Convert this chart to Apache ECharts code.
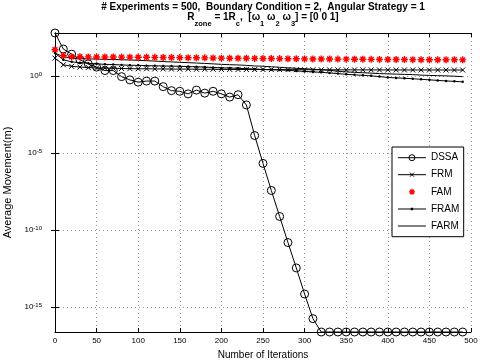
<!DOCTYPE html>
<html><head><meta charset="utf-8">
<script src="https://cdn.jsdelivr.net/npm/echarts@6/dist/echarts.min.js"></script>
<style>html,body{margin:0;padding:0;background:#fff}#c{width:489px;height:363px}</style>
</head><body><div id="c"></div>
<script>
const iterations = [0,10,20,30,40,50,60,70,80,90,100,110,120,130,140,150,160,170,180,190,200,210,220,230,240,250,260,270,280,290,300,310,320,330,340,350,360,370,380,390,400,410,420,430,440,450,460,470,480,490];
const dssa = [603,55,25.7,11,6.0,3.7,2.2,2.2,0.89,0.55,0.39,0.46,0.46,0.20,0.11,0.10,0.068,0.12,0.076,0.10,0.068,0.042,0.060,0.013,1.35e-4,2.1e-6,3.7e-8,7.6e-10,1.55e-11,3.5e-13,7.1e-15,1.8e-16,2.45e-17,2.45e-17,2.45e-17,2.45e-17,2.45e-17,2.45e-17,2.45e-17,2.45e-17,2.45e-17,2.45e-17,2.45e-17,2.45e-17,2.45e-17,2.45e-17,2.45e-17,2.45e-17,2.45e-17,2.45e-17];
const frm = [14.1,5.25,4.17,3.72,3.47,3.24,3.16,3.09,3.02,2.95,2.88,2.88,2.82,2.82,2.75,2.75,2.75,2.69,2.69,2.69,2.63,2.63,2.6,2.6,2.57,2.57,2.55,2.55,2.52,2.52,2.5,2.5,2.48,2.48,2.46,2.46,2.45,2.45,2.44,2.44,2.43,2.43,2.42,2.42,2.41,2.41,2.4,2.4,2.4,2.4];
const fam = [49,20,17.4,17.2,17.0,16.8,16.7,16.6,16.5,16.4,16.2,16.0,15.9,15.7,15.5,15.3,15.1,14.9,14.7,14.5,14.1,14.0,13.9,13.8,13.6,13.5,13.3,13.2,13.0,12.9,12.6,12.5,12.4,12.3,12.2,12.1,12.0,11.9,11.8,11.7,11.6,11.5,11.4,11.3,11.2,11.1,11.1,11.0,11.0,10.9];
const fram = [30.2,11,8.1,7.2,6.5,6.0,5.6,5.4,5.1,4.9,4.8,4.6,4.5,4.4,4.3,4.2,4.0,3.9,3.7,3.5,3.3,3.2,3.1,2.9,2.8,2.6,2.5,2.4,2.3,2.1,1.95,1.8,1.7,1.55,1.4,1.26,1.17,1.08,1.0,0.9,0.79,0.74,0.7,0.65,0.6,0.55,0.51,0.47,0.44,0.41];
const farm = [30.2,17.4,13.8,13.2,12.6,12.3,11.9,11.5,11.1,10.7,10.2,9.6,9.1,8.5,8.0,7.6,7.2,6.8,6.4,6.0,5.6,5.3,5.1,4.8,4.4,4.2,3.9,3.6,3.3,3.1,2.9,2.7,2.5,2.3,2.0,1.8,1.7,1.6,1.5,1.4,1.35,1.3,1.25,1.2,1.12,1.07,1.03,1.0,0.95,0.89];
const seriesNames = ['DSSA','FRM','FAM','FRAM','FARM'];
const yTicks = [1e-15,1e-10,1e-5,1];
const xMin = 0, xMax = 500, xStep = 50;
const yMin = 2.45e-17, yMax = 603;

const FONT = 'Liberation Sans';
const pts = arr => iterations.map((x, i) => [x, arr[i]]);

const chart = echarts.init(document.getElementById('c'), null, {renderer: 'canvas'});
const yLabelFmt = v => '{b|10}{s|' + Math.round(Math.log10(v)) + '}';

const xBase = {
  type: 'value', min: xMin, max: xMax, interval: xStep,
  axisLine: {show: true, onZero: false, lineStyle: {color: '#000', width: 1}},
  axisTick: {show: true, inside: true, length: 4, lineStyle: {color: '#000'}},
};
const yBase = {
  type: 'log', logBase: 10, min: yMin, max: yMax,
  axisLine: {show: true, lineStyle: {color: '#000', width: 1}},
  axisTick: {show: true, inside: true, length: 4, customValues: yTicks, lineStyle: {color: '#000'}},
};

chart.setOption({
  animation: false,
  backgroundColor: '#fff',
  title: [
    {text: '# Experiments = 500,  Boundary Condition = 2,  Angular Strategy = 1', left: 263, top: 1, textAlign: 'center', padding: 0,
     textStyle: {fontFamily: FONT, fontSize: 10, fontWeight: 'bold', color: '#000', lineHeight: 12}},
    {text: 'R{s|zone} = 1R{s|c},  [\u03c9{s|1} \u03c9{s|2} \u03c9{s|3}] = [0 0 1]', left: 263, top: 6.5, textAlign: 'center', padding: 0,
     textStyle: {fontFamily: FONT, fontSize: 10, fontWeight: 'bold', color: '#000', lineHeight: 21,
       rich: {s: {fontFamily: FONT, fontSize: 7.5, fontWeight: 'bold', color: '#000', lineHeight: 6, verticalAlign: 'bottom'}}}}
  ],
  grid: {left: 55, right: 18, top: 33, bottom: 31, containLabel: false, outerBoundsMode: 'none'},
  xAxis: [
    Object.assign({}, xBase, {position: 'bottom',
      name: 'Number of Iterations', nameLocation: 'middle', nameGap: 15,
      nameTextStyle: {fontFamily: FONT, fontSize: 10, color: '#000'},
      axisLabel: {show: true, margin: 5, fontFamily: FONT, fontSize: 8, color: '#000'},
      splitLine: {show: true, lineStyle: {color: '#999', width: 1, type: [1, 3]}}}),
    Object.assign({}, xBase, {position: 'top', axisLabel: {show: false}, splitLine: {show: false}})
  ],
  yAxis: [
    Object.assign({}, yBase, {position: 'left',
      name: 'Average Movement(m)', nameLocation: 'middle', nameGap: 27,
      nameTextStyle: {fontFamily: FONT, fontSize: 11, color: '#000'},
      axisLabel: {show: true, margin: 13, customValues: yTicks, formatter: yLabelFmt,
        rich: {b: {fontFamily: FONT, fontSize: 8, color: '#000', lineHeight: 10},
               s: {fontFamily: FONT, fontSize: 6, color: '#000', lineHeight: 7, verticalAlign: 'top'}}},
      splitLine: {show: true, lineStyle: {color: '#999', width: 1, type: [1, 3]}}}),
    Object.assign({}, yBase, {position: 'right', axisLabel: {show: false}, splitLine: {show: false}})
  ],
  legend: {
    orient: 'vertical', left: 392, top: 147, padding: [5.2, 4.4, 5.2, 5.3],
    itemWidth: 28, itemHeight: 10, itemGap: 6,
    backgroundColor: '#fff', borderColor: '#000', borderWidth: 1, borderRadius: 0,
    textStyle: {fontFamily: FONT, fontSize: 10, color: '#000', lineHeight: 11},
    data: [
      {name: 'DSSA', icon: 'path://M0,0M28,10M0,5L28,5M17,5A3,3,0,1,1,11,5A3,3,0,1,1,17,5', itemStyle: {color: 'transparent', borderColor: '#000', borderWidth: 1}},
      {name: 'FRM', icon: 'path://M0,0M28,10M0,5L28,5M12,3L16,7M16,3L12,7', itemStyle: {color: 'transparent', borderColor: '#000', borderWidth: 1}},
      {name: 'FAM', icon: 'path://M0,0M28,10M14,2L14,8M11,5L17,5M11.9,2.9L16.1,7.1M16.1,2.9L11.9,7.1', itemStyle: {color: 'transparent', borderColor: '#ff0000', borderWidth: 1.3}},
      {name: 'FRAM', icon: 'path://M0,0M28,10M0,5L28,5M15,5A1,1,0,1,1,13,5A1,1,0,1,1,15,5', itemStyle: {color: '#000', borderColor: '#000', borderWidth: 1}},
      {name: 'FARM', icon: 'path://M0,0M28,10M0,5L28,5', itemStyle: {color: 'transparent', borderColor: '#000', borderWidth: 1}}
    ]
  },
  series: [
    {name: seriesNames[0], type: 'line', data: pts(dssa), clip: false, symbol: 'circle', symbolSize: 8,
     itemStyle: {color: 'transparent', borderColor: '#000', borderWidth: 1}, lineStyle: {color: '#000', width: 1}},
    {name: seriesNames[1], type: 'line', data: pts(frm), clip: false, symbol: 'path://M0,0L10,10M10,0L0,10', symbolSize: 5,
     itemStyle: {color: 'transparent', borderColor: '#000', borderWidth: 1}, lineStyle: {color: '#000', width: 1}},
    {name: seriesNames[2], type: 'line', data: pts(fam), clip: false,
     symbol: 'path://M5,0L5,10M0,5L10,5M1.5,1.5L8.5,8.5M8.5,1.5L1.5,8.5', symbolSize: 7,
     itemStyle: {color: 'transparent', borderColor: '#ff0000', borderWidth: 1.4}, lineStyle: {width: 0, opacity: 0}},
    {name: seriesNames[3], type: 'line', data: pts(fram), clip: false, symbol: 'circle', symbolSize: 2.5,
     itemStyle: {color: '#000'}, lineStyle: {color: '#000', width: 1}},
    {name: seriesNames[4], type: 'line', data: pts(farm), clip: false, symbol: 'none', showSymbol: false,
     itemStyle: {color: '#000'}, lineStyle: {color: '#000', width: 1}}
  ]
});
</script></body></html>
